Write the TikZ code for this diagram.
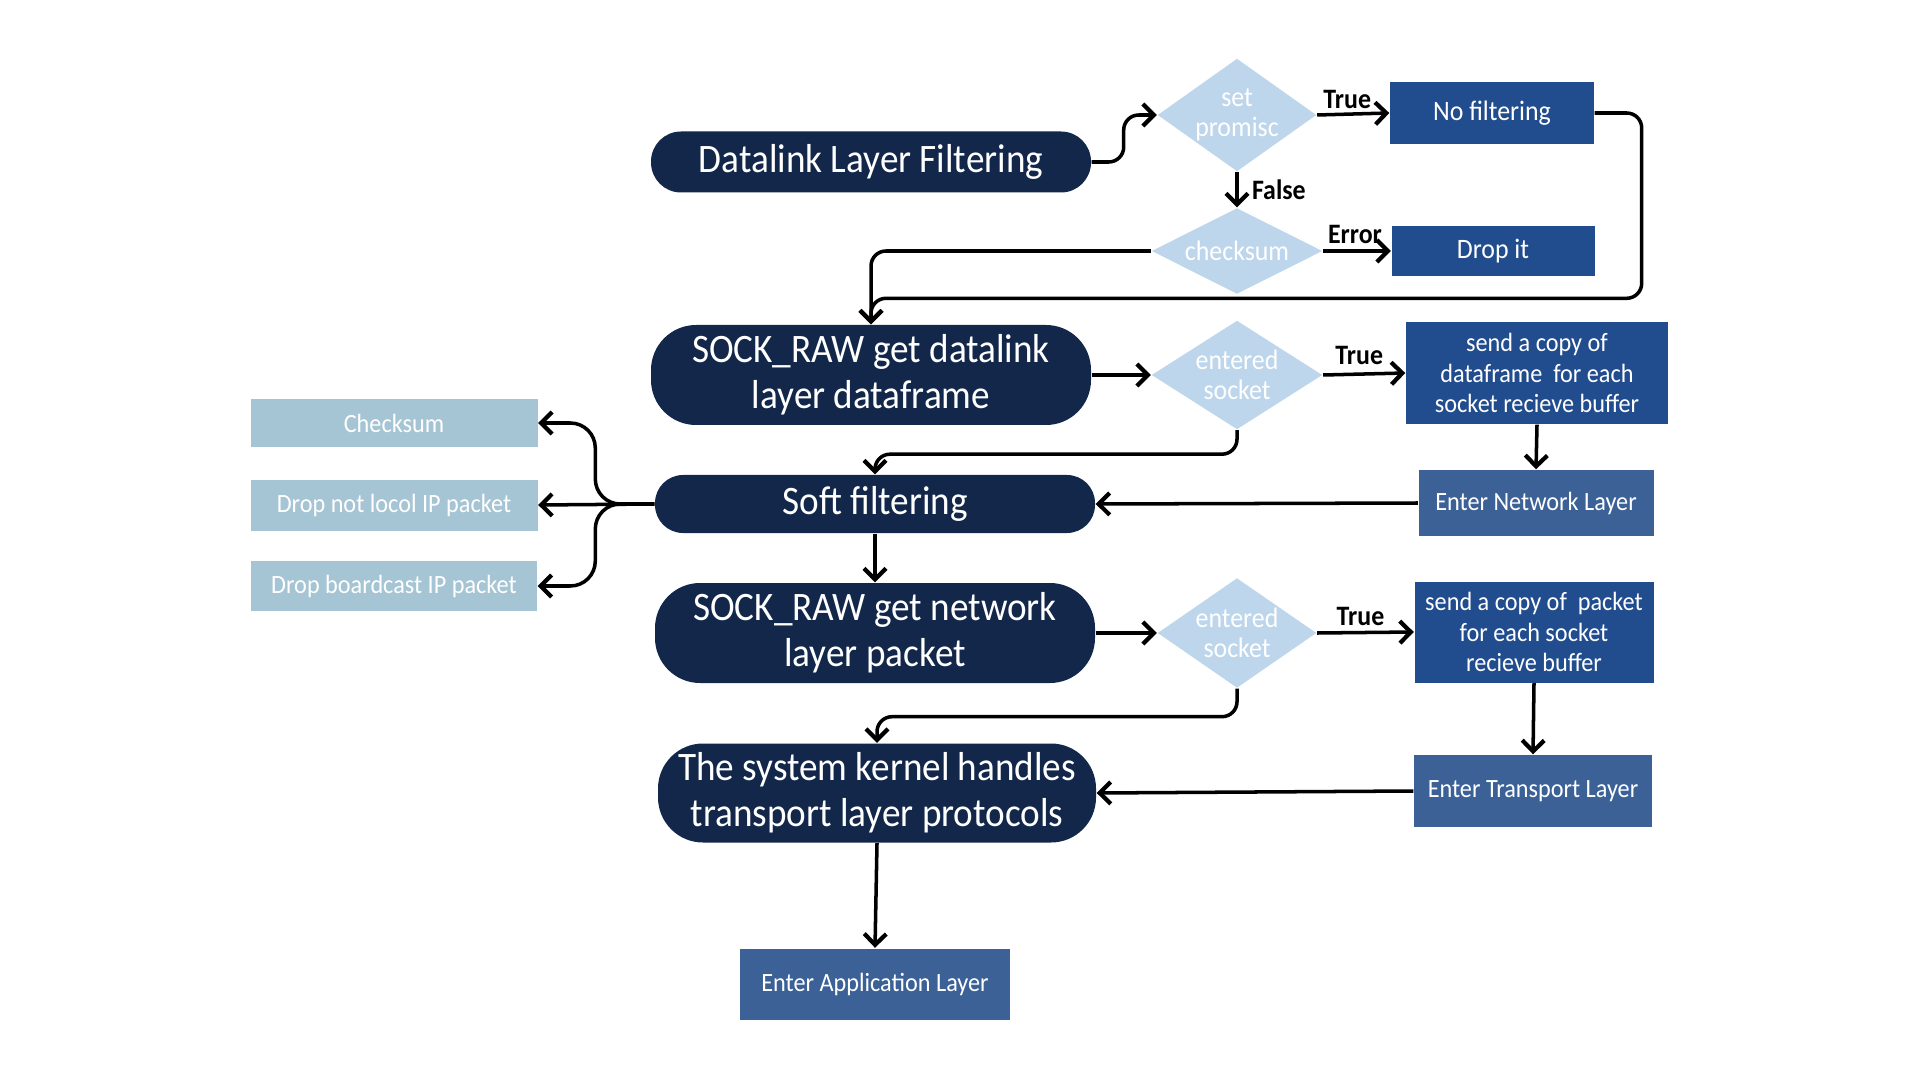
\documentclass[tikz,border=0pt]{standalone}
\usepackage{fontspec}
\setmainfont{Carlito}[FakeStretch=0.92]
\usetikzlibrary{arrows.meta,shapes.geometric,calc}
\definecolor{navy}{RGB}{18,39,74}
\definecolor{paleblue}{RGB}{189,214,235}
\definecolor{deepblue}{RGB}{33,77,142}
\definecolor{midblue}{RGB}{59,97,150}
\definecolor{steelblue}{RGB}{165,196,212}
\tikzset{
	pill/.style={rectangle, fill=navy, text=white, rounded corners=#1, align=center, inner sep=0pt, font=\fontsize{11.5}{13}\selectfont},
	pill/.default=0.3cm,
	decision/.style={diamond, fill=paleblue, text=white, align=center, inner sep=0pt, font=\fontsize{8}{8.6}\selectfont},
	darkbox/.style={rectangle, fill=deepblue, text=white, align=center, inner sep=0pt, font=\fontsize{7.5}{8.8}\selectfont},
	midbox/.style={rectangle, fill=midblue, text=white, align=center, inner sep=0pt, font=\fontsize{7.5}{8.8}\selectfont},
	sidebox/.style={rectangle, fill=steelblue, text=white, inner sep=0pt, font=\fontsize{7.5}{9}\selectfont},
	conn/.style={line width=1pt, -{Straight Barb[length=1.1mm,width=2.2mm,line width=1.2pt]}, rounded corners=0.15cm},
	answer/.style={font=\bfseries\fontsize{8}{9}\selectfont, inner sep=1.5pt}
}

\begin{document}
\begin{tikzpicture}
		%%%%% START %%%%%
		\useasboundingbox (0, 0) rectangle (19.2, -10.8);
		
		\node[pill, minimum width=4.4cm, minimum height=0.61cm] (dl) at (8.71, -1.62) {Datalink Layer Filtering};
		\node[decision, aspect=1.4, minimum width=1.59cm, minimum height=1.13cm] (promisc) at (12.37, -1.15) {set\\promisc};
		\node[darkbox, font=\fontsize{8}{9}\selectfont, minimum width=2.04cm, minimum height=0.62cm] (nofilt) at (14.92, -1.13) {No filtering};
		\node[decision, aspect=2, minimum width=1.71cm, minimum height=0.86cm] (cksum) at (12.37, -2.51) {checksum};
		\node[darkbox, font=\fontsize{8}{9}\selectfont, minimum width=2.03cm, minimum height=0.5cm] (drop) at (14.93, -2.51) {Drop it};
		
		\node[pill=0.45cm, minimum width=4.4cm, minimum height=1.0cm] (rawdl) at (8.71, -3.75) {SOCK\_RAW get datalink\\layer dataframe};
		\node[decision, aspect=1.4, minimum width=1.71cm, minimum height=1.08cm] (ent1) at (12.37, -3.75) {entered\\socket};
		\node[darkbox, minimum width=2.62cm, minimum height=1.02cm] (copy1) at (15.37, -3.73) {send a copy of\\dataframe\ \ for each\\socket recieve buffer};
		\node[midbox, minimum width=2.35cm, minimum height=0.66cm] (netl) at (15.36, -5.03) {Enter Network Layer};
		
		\node[pill=0.28cm, minimum width=4.4cm, minimum height=0.58cm] (soft) at (8.75, -5.04) {Soft filtering};
		\node[sidebox, minimum width=2.87cm, minimum height=0.48cm] (lcheck) at (3.94, -4.23) {Checksum};
		\node[sidebox, minimum width=2.87cm, minimum height=0.51cm] (llocal) at (3.94, -5.05) {Drop not locol IP packet};
		\node[sidebox, minimum width=2.86cm, minimum height=0.5cm] (lbcast) at (3.94, -5.86) {Drop boardcast IP packet};
		
		\node[pill=0.45cm, minimum width=4.4cm, minimum height=1.0cm] (rawnet) at (8.75, -6.33) {SOCK\_RAW get network\\layer packet};
		\node[decision, aspect=1.4, minimum width=1.59cm, minimum height=1.1cm] (ent2) at (12.37, -6.33) {entered\\socket};
		\node[darkbox, minimum width=2.39cm, minimum height=1.01cm] (copy2) at (15.34, -6.32) {send a copy of\ \ packet\\for each socket\\recieve buffer};
		
		\node[pill=0.45cm, minimum width=4.38cm, minimum height=0.99cm] (kern) at (8.77, -7.93) {The system kernel handles\\transport layer protocols};
		\node[midbox, minimum width=2.38cm, minimum height=0.72cm] (transl) at (15.33, -7.91) {Enter Transport Layer};
		\node[midbox, minimum width=2.7cm, minimum height=0.71cm] (appl) at (8.75, -9.84) {Enter Application Layer};
		
		% datalink part
		\draw[conn] (dl.east) -- ++(0.32, 0) |- (promisc.west);
		\draw[conn] (promisc.east) -- node[answer, above, xshift=-0.06cm, yshift=-0.02cm] {True} (nofilt.west);
		\draw[conn] (promisc.south) -- node[answer, right, xshift=0.08cm] {False} (cksum.north);
		\draw[conn] (cksum.east) -- node[answer, above, xshift=-0.02cm] {Error} (drop.west);
		\draw[conn] (cksum.west) -| (rawdl.north);
		\draw[conn] (nofilt.east) -- ++(0.47, 0) |- ($(rawdl.north)+(0, 0.26)$) -- (rawdl.north);
		
		\draw[conn] (rawdl.east) -- (ent1.west);
		\draw[conn] (ent1.east) -- node[answer, above, xshift=-0.05cm, yshift=0.02cm] {True} (copy1.west);
		\draw[conn] (ent1.south) -- ++(0, -0.24) -| (soft.north);
		\draw[conn] (copy1.south) -- (netl.north);
		\draw[conn] (netl.west) -- (soft.east);
		
		% soft filtering branches
		\coordinate (fork) at ($(soft.west)+(-0.59, 0)$);
		\draw[conn, rounded corners=0.25cm] (soft.west) -- (fork) |- (lcheck.east);
		\draw[conn] (soft.west) -- (llocal.east);
		\draw[conn, rounded corners=0.25cm] (soft.west) -- (fork) |- (lbcast.east);
		
		% network part
		\draw[conn] (soft.south) -- (rawnet.north);
		\draw[conn] (rawnet.east) -- (ent2.west);
		\draw[conn] (ent2.east) -- node[answer, above, xshift=-0.05cm] {True} (copy2.west);
		\draw[conn] (ent2.south) -- ++(0, -0.28) -| (kern.north);
		\draw[conn] (copy2.south) -- (transl.north);
		\draw[conn] (transl.west) -- (kern.east);
		\draw[conn] (kern.south) -- (appl.north);
		
		%%%%% END %%%%%
\end{tikzpicture}
\end{document}
